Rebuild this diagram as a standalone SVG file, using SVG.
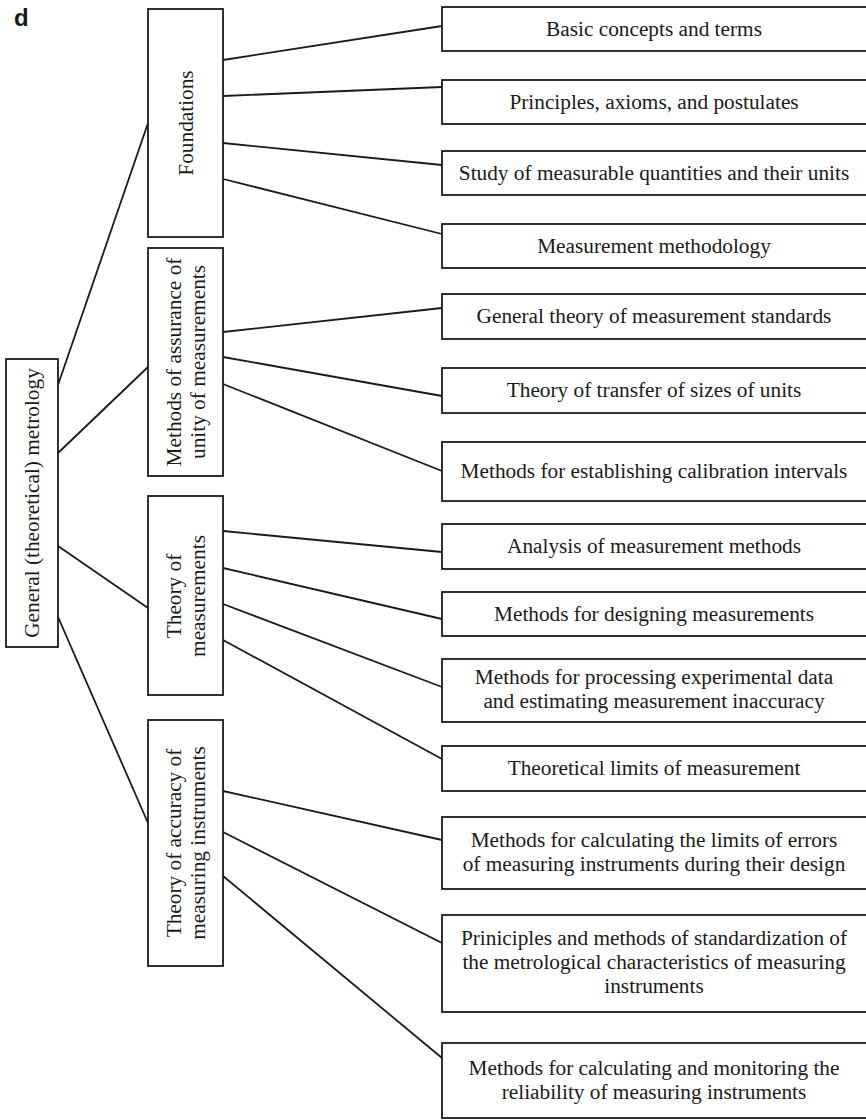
<svg xmlns="http://www.w3.org/2000/svg" width="866" height="1120" viewBox="0 0 866 1120">
<style>
.box{fill:#fff;stroke:#1a1a1a;stroke-width:1.8}
.t{font-family:"Liberation Serif","Times New Roman",serif;font-size:21.3px;fill:#1a1a1a;text-anchor:middle}
.c line{stroke:#1a1a1a;stroke-width:1.8}
</style>
<rect width="866" height="1120" fill="#fff"/>
<text x="14" y="26" font-family="Liberation Sans,Arial,sans-serif" font-weight="bold" font-size="24" fill="#1a1a1a">d</text>
<g class="c" id="connectors">
<line x1="58" y1="385" x2="148" y2="123"/>
<line x1="58" y1="453" x2="148" y2="367"/>
<line x1="58" y1="546" x2="148" y2="608"/>
<line x1="58" y1="617" x2="148" y2="823"/>
<line x1="223" y1="60" x2="442" y2="26"/>
<line x1="223" y1="96" x2="442" y2="87"/>
<line x1="223" y1="143" x2="442" y2="165"/>
<line x1="223" y1="179" x2="442" y2="234"/>
<line x1="223" y1="332" x2="442" y2="308"/>
<line x1="223" y1="357" x2="442" y2="396"/>
<line x1="223" y1="384" x2="442" y2="471"/>
<line x1="223" y1="531" x2="442" y2="552"/>
<line x1="223" y1="568" x2="442" y2="619"/>
<line x1="223" y1="604" x2="442" y2="687"/>
<line x1="223" y1="640" x2="442" y2="759"/>
<line x1="223" y1="791" x2="442" y2="840"/>
<line x1="223" y1="832" x2="442" y2="943"/>
<line x1="223" y1="876" x2="442" y2="1058"/>
</g>
<g id="root">
<rect class="box" x="6" y="359" width="52" height="288"/>
<text class="t" transform="translate(39,503) rotate(-90)">General (theoretical) metrology</text>
</g>
<g id="foundations">
<rect class="box" x="148" y="9" width="75" height="228"/>
<text class="t" transform="translate(193,123) rotate(-90)">Foundations</text>
</g>
<g id="assurance">
<rect class="box" x="148" y="248" width="75" height="228"/>
<text class="t" transform="translate(181,362) rotate(-90)">Methods of assurance of</text>
<text class="t" transform="translate(205,362) rotate(-90)">unity of measurements</text>
</g>
<g id="theory-meas">
<rect class="box" x="148" y="496" width="75" height="199"/>
<text class="t" transform="translate(181,596) rotate(-90)">Theory of</text>
<text class="t" transform="translate(205,596) rotate(-90)">measurements</text>
</g>
<g id="theory-acc">
<rect class="box" x="148" y="720" width="75" height="246"/>
<text class="t" transform="translate(181,843) rotate(-90)">Theory of accuracy of</text>
<text class="t" transform="translate(205,843) rotate(-90)">measuring instruments</text>
</g>
<g id="n1"><rect class="box" x="442" y="7" width="430" height="44"/><text class="t" x="654" y="36">Basic concepts and terms</text></g>
<g id="n2"><rect class="box" x="442" y="80" width="430" height="44"/><text class="t" x="654" y="109">Principles, axioms, and postulates</text></g>
<g id="n3"><rect class="box" x="442" y="151" width="430" height="44"/><text class="t" x="654" y="180">Study of measurable quantities and their units</text></g>
<g id="n4"><rect class="box" x="442" y="224" width="430" height="44"/><text class="t" x="654" y="253">Measurement methodology</text></g>
<g id="n5"><rect class="box" x="442" y="294" width="430" height="45"/><text class="t" x="654" y="323">General theory of measurement standards</text></g>
<g id="n6"><rect class="box" x="442" y="368" width="430" height="45"/><text class="t" x="654" y="397">Theory of transfer of sizes of units</text></g>
<g id="n7"><rect class="box" x="442" y="442" width="430" height="59"/><text class="t" x="654" y="478">Methods for establishing calibration intervals</text></g>
<g id="n8"><rect class="box" x="442" y="524" width="430" height="45"/><text class="t" x="654" y="553">Analysis of measurement methods</text></g>
<g id="n9"><rect class="box" x="442" y="592" width="430" height="44"/><text class="t" x="654" y="621">Methods for designing measurements</text></g>
<g id="n10"><rect class="box" x="442" y="659" width="430" height="63"/><text class="t" x="654" y="684">Methods for processing experimental data</text><text class="t" x="654" y="708">and estimating measurement inaccuracy</text></g>
<g id="n11"><rect class="box" x="442" y="746" width="430" height="45"/><text class="t" x="654" y="775">Theoretical limits of measurement</text></g>
<g id="n12"><rect class="box" x="442" y="817" width="430" height="72"/><text class="t" x="654" y="847">Methods for calculating the limits of errors</text><text class="t" x="654" y="871">of measuring instruments during their design</text></g>
<g id="n13"><rect class="box" x="442" y="915" width="430" height="97"/><text class="t" x="654" y="945">Priniciples and methods of standardization of</text><text class="t" x="654" y="969">the metrological characteristics of measuring</text><text class="t" x="654" y="993">instruments</text></g>
<g id="n14"><rect class="box" x="442" y="1043" width="430" height="75"/><text class="t" x="654" y="1075">Methods for calculating and monitoring the</text><text class="t" x="654" y="1099">reliability of measuring instruments</text></g>
</svg>
